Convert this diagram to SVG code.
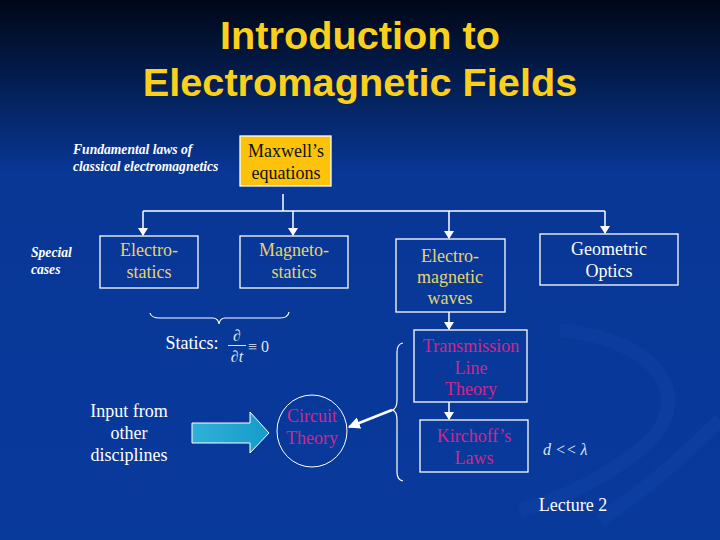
<svg xmlns="http://www.w3.org/2000/svg" width="720" height="540" viewBox="0 0 720 540">
<defs>
<linearGradient id="bg" x1="0" y1="0" x2="0" y2="1">
<stop offset="0" stop-color="#000716"/>
<stop offset="0.2" stop-color="#052565"/>
<stop offset="0.32" stop-color="#083796"/>
<stop offset="1" stop-color="#083a9c"/>
</linearGradient>
<linearGradient id="cyan" x1="0" y1="0" x2="1" y2="0">
<stop offset="0" stop-color="#2fb0d8"/>
<stop offset="1" stop-color="#169cc9"/>
</linearGradient>
<marker id="ah" viewBox="0 0 8 10" refX="7" refY="5" markerWidth="8" markerHeight="10" markerUnits="userSpaceOnUse" orient="auto">
<path d="M0,0 L8,5 L0,10 Z" fill="#ffffff"/>
</marker>
<marker id="ah2" viewBox="0 0 10 10" refX="9" refY="5" markerWidth="12" markerHeight="12" markerUnits="userSpaceOnUse" orient="auto">
<path d="M0,0 L10,5 L0,10 Z" fill="#ffffff"/>
</marker>
<style>
.box{fill:none;stroke:#ffffff;stroke-width:1.3}
.ln{fill:none;stroke:#ffffff;stroke-width:1.5}
.br{fill:none;stroke:#ffffff;stroke-width:1.2}
.t{font-family:'Liberation Serif','Times New Roman',serif;font-size:18px;text-anchor:middle}
.w{fill:#ffffff}
.y{fill:#e6d36f}
.m{fill:#d1268c}
.k{fill:#111111}
.it{font-family:'Liberation Serif','Times New Roman',serif;font-size:13.6px;font-style:italic;font-weight:bold;fill:#ffffff}
.title{font-family:'Liberation Sans',Arial,sans-serif;font-size:39.7px;font-weight:bold;fill:#fbd01c;text-anchor:middle}
</style>
</defs>
<rect width="720" height="540" fill="url(#bg)"/>
<g opacity="0.08" fill="none" stroke="#3a73d8" stroke-width="14">
<path d="M560,330 C660,340 700,400 640,450 C600,480 560,500 520,510"/>
<path d="M600,520 C660,480 700,440 720,420"/>
</g>
<g id="title">
<text class="title" x="360" y="49">Introduction to</text>
<text class="title" x="360" y="96">Electromagnetic Fields</text>
</g>
<g id="label-fundamental">
<text class="it" x="73" y="154">Fundamental laws of</text>
<text class="it" x="73" y="171">classical electromagnetics</text>
</g>
<g id="label-special">
<text class="it" x="31" y="257">Special</text>
<text class="it" x="31" y="274">cases</text>
</g>
<g id="connectors">
<path class="ln" d="M283,194 V211"/>
<path class="ln" d="M143,211 H605"/>
<path class="ln" d="M143,211 V235" marker-end="url(#ah)"/>
<path class="ln" d="M293,211 V235" marker-end="url(#ah)"/>
<path class="ln" d="M449,211 V238" marker-end="url(#ah)"/>
<path class="ln" d="M605,211 V233" marker-end="url(#ah)"/>
<path class="ln" d="M449,312 V329" marker-end="url(#ah)"/>
<path class="ln" d="M449,402 V419" marker-end="url(#ah)"/>
<path d="M392,410 L349,427" stroke="#ffffff" stroke-width="2.5" fill="none" marker-end="url(#ah2)"/>
<path class="br" d="M150,313 Q151,318 160,318 H213 Q218,318 219,324 Q220,318 225,318 H280 Q288,318 289,312"/>
<path class="br" d="M403,343 Q397,344 397,352 V400 Q397,409 392,410 Q397,411 397,420 V472 Q397,480 403,481"/>
</g>
<g id="maxwell">
<rect x="240" y="136" width="91" height="50" fill="#fcc30a" stroke="#ffffff" stroke-width="1.3"/>
<text class="t k" x="286" y="157">Maxwell’s</text>
<text class="t k" x="286" y="179">equations</text>
</g>
<g id="electrostatics">
<rect class="box" x="100" y="236" width="98" height="52"/>
<text class="t y" x="149" y="256">Electro-</text>
<text class="t y" x="149" y="278">statics</text>
</g>
<g id="magnetostatics">
<rect class="box" x="240" y="236" width="108" height="52"/>
<text class="t y" x="294" y="256">Magneto-</text>
<text class="t y" x="294" y="278">statics</text>
</g>
<g id="emwaves">
<rect class="box" x="396" y="239" width="109" height="73"/>
<text class="t y" x="450" y="262">Electro-</text>
<text class="t y" x="450" y="283">magnetic</text>
<text class="t y" x="450" y="304">waves</text>
</g>
<g id="geometric">
<rect class="box" x="540" y="234" width="138" height="51"/>
<text class="t w" x="609" y="255">Geometric</text>
<text class="t w" x="609" y="277">Optics</text>
</g>
<g id="transmission">
<rect class="box" x="414" y="330" width="113" height="72"/>
<text class="t m" x="471" y="352">Transmission</text>
<text class="t m" x="471" y="374">Line</text>
<text class="t m" x="471" y="395">Theory</text>
</g>
<g id="kirchoff">
<rect class="box" x="420" y="420" width="108" height="52"/>
<text class="t m" x="474" y="442">Kirchoff’s</text>
<text class="t m" x="474" y="464">Laws</text>
</g>
<g id="circuit">
<ellipse cx="312" cy="431" rx="35" ry="36" fill="none" stroke="#ffffff" stroke-width="1"/>
<text class="t m" x="312" y="422">Circuit</text>
<text class="t m" x="312" y="444">Theory</text>
</g>
<g id="input">
<text class="t w" x="129" y="417">Input from</text>
<text class="t w" x="129" y="439">other</text>
<text class="t w" x="129" y="461">disciplines</text>
<path d="M192,423 H250 V412 L269,433 L250,453 V443 H192 Z" fill="url(#cyan)" stroke="#ffffff" stroke-width="1"/>
</g>
<g id="statics">
<text class="t w" x="192" y="349">Statics:</text>
<g font-family="'Liberation Serif','Times New Roman',serif" font-size="16" fill="#dfe6f5" font-style="italic">
<text x="237" y="341" text-anchor="middle">∂</text>
<text x="237" y="362" text-anchor="middle">∂t</text>
</g>
<path d="M228,345.5 H246" stroke="#dfe6f5" stroke-width="1"/>
<text x="248" y="352" font-family="'Liberation Serif','Times New Roman',serif" font-size="16" fill="#dfe6f5">≡ 0</text>
</g>
<g id="dlambda">
<text x="543" y="455" font-family="'Liberation Serif','Times New Roman',serif" font-size="16" font-style="italic" fill="#dfe6f5">d &lt;&lt; λ</text>
</g>
<g id="lecture">
<text class="t w" x="573" y="511">Lecture 2</text>
</g>
</svg>
